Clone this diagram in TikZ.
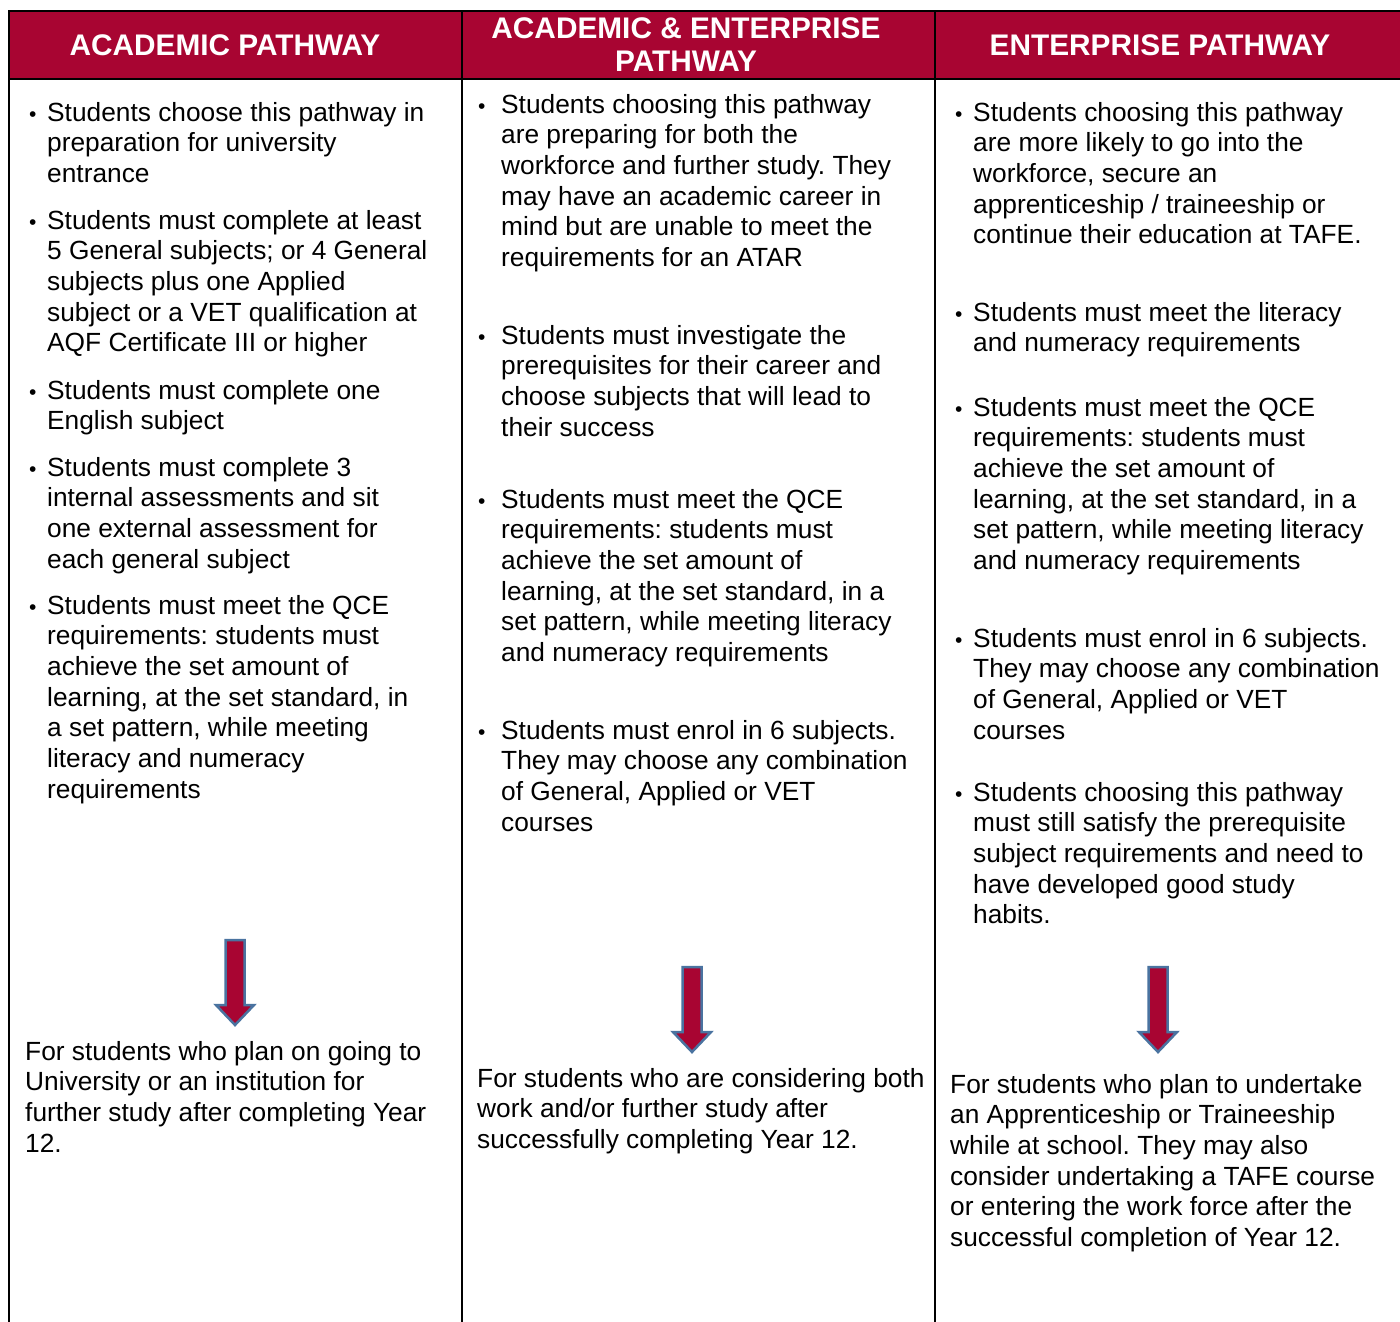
\documentclass[tikz,border=0pt]{standalone}
\usepackage{fontspec}
\setmainfont{Liberation Sans}
\usepackage{xcolor}
\usepackage{tikz}
\frenchspacing
\definecolor{pathred}{HTML}{A80532}
\definecolor{arrowblue}{HTML}{4A73A0}
\tikzstyle{header} = [text=white, font=\fontsize{29.8}{33}\selectfont\bfseries, align=center, inner sep=0pt]
\tikzstyle{bodytext} = [anchor=base west, align=left, font=\fontsize{26.3}{30.7}\selectfont, inner sep=0pt]
\tikzstyle{bullet} = [anchor=base west, font=\fontsize{21}{30.7}\selectfont, inner sep=0pt]
\tikzstyle{rule} = [line width=2pt, black]
\tikzstyle{downarrow} = [fill=pathred, draw=arrowblue, line width=2.5pt, line join=miter]
% baseline of the last line of a paragraph: first baseline + (lines-1) * skip
\newcommand{\lastline}[2]{{#1+(#2-1)*30.7}}

\begin{document}
\begin{tikzpicture}[x=1pt, y=-1pt]
    \useasboundingbox (0,0) rectangle (1400,1322);

    % header band and grid
    \fill[pathred] (9,11) rectangle (1400,79);
    \draw[rule] (1400,11) -- (9,11) -- (9,1322);
    \draw[rule] (9,79) -- (1400,79);
    \draw[rule] (462,11) -- (462,1322);
    \draw[rule] (935,11) -- (935,1322);

    \node (head1) [header] at (225,45) {ACADEMIC PATHWAY};
    \node (head2) [header] at (686,45) {ACADEMIC \& ENTERPRISE\\PATHWAY};
    \node (head3) [header] at (1160,45) {ENTERPRISE PATHWAY};

    % academic column
    \foreach \y in {121,229,399,476,614} \node[bullet] at (29,\y) {•};
    \node (acad1) [bodytext] at (47,\lastline{121}{3}) {Students choose this pathway in\\preparation for university\\entrance};
    \node (acad2) [bodytext] at (47,\lastline{229}{5}) {Students must complete at least\\5 General subjects; or 4 General\\subjects plus one Applied\\subject or a VET qualification at\\AQF Certificate III or higher};
    \node (acad3) [bodytext] at (47,\lastline{399}{2}) {Students must complete one\\English subject};
    \node (acad4) [bodytext] at (47,\lastline{476}{4}) {Students must complete 3\\internal assessments and sit\\one external assessment for\\each general subject};
    \node (acad5) [bodytext] at (47,\lastline{614}{7}) {Students must meet the QCE\\requirements: students must\\achieve the set amount of\\learning, at the set standard, in\\a set pattern, while meeting\\literacy and numeracy\\requirements};
    \node (acadend) [bodytext] at (25,\lastline{1060}{4}) {For students who plan on going to\\University or an institution for\\further study after completing Year\\12.};

    % academic & enterprise column
    \foreach \y in {113,344,508,739} \node[bullet] at (478,\y) {•};
    \node (both1) [bodytext] at (501,\lastline{113}{6}) {Students choosing this pathway\\are preparing for both the\\workforce and further study. They\\may have an academic career in\\mind but are unable to meet the\\requirements for an ATAR};
    \node (both2) [bodytext] at (501,\lastline{344}{4}) {Students must investigate the\\prerequisites for their career and\\choose subjects that will lead to\\their success};
    \node (both3) [bodytext] at (501,\lastline{508}{6}) {Students must meet the QCE\\requirements: students must\\achieve the set amount of\\learning, at the set standard, in a\\set pattern, while meeting literacy\\and numeracy requirements};
    \node (both4) [bodytext] at (501,\lastline{739}{4}) {Students must enrol in 6 subjects.\\They may choose any combination\\of General, Applied or VET\\courses};
    \node (bothend) [bodytext] at (477,\lastline{1087}{3}) {For students who are considering both\\work and/or further study after\\successfully completing Year 12.};

    % enterprise column
    \foreach \y in {121,321,416,647,801} \node[bullet] at (955,\y) {•};
    \node (ent1) [bodytext] at (973,\lastline{121}{5}) {Students choosing this pathway\\are more likely to go into the\\workforce, secure an\\apprenticeship / traineeship or\\continue their education at TAFE.};
    \node (ent2) [bodytext] at (973,\lastline{321}{2}) {Students must meet the literacy\\and numeracy requirements};
    \node (ent3) [bodytext] at (973,\lastline{416}{6}) {Students must meet the QCE\\requirements: students must\\achieve the set amount of\\learning, at the set standard, in a\\set pattern, while meeting literacy\\and numeracy requirements};
    \node (ent4) [bodytext] at (973,\lastline{647}{4}) {Students must enrol in 6 subjects.\\They may choose any combination\\of General, Applied or VET\\courses};
    \node (ent5) [bodytext] at (973,\lastline{801}{5}) {Students choosing this pathway\\must still satisfy the prerequisite\\subject requirements and need to\\have developed good study\\habits.};
    \node (entend) [bodytext] at (950,\lastline{1093}{6}) {For students who plan to undertake\\an Apprenticeship or Traineeship\\while at school. They may also\\consider undertaking a TAFE course\\or entering the work force after the\\successful completion of Year 12.};

    % block arrows
    \foreach \ax/\ay in {235/940, 692/967, 1158/967}
        \draw[downarrow] (\ax-9.5,\ay) -- (\ax+9.5,\ay) -- (\ax+9.5,\ay+65) -- (\ax+19,\ay+65)
            -- (\ax,\ay+85) -- (\ax-19,\ay+65) -- (\ax-9.5,\ay+65) -- cycle;
\end{tikzpicture}
\end{document}
